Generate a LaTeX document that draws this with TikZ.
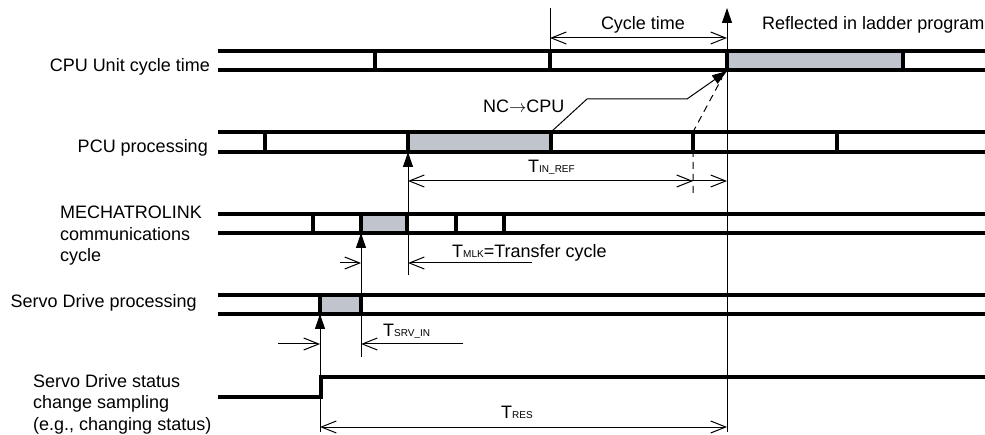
\documentclass[tikz,border=0pt]{standalone}
\usepackage{fontspec}
\setmainfont{Liberation Sans}
\usetikzlibrary{arrows.meta}
\definecolor{busygray}{RGB}{192,196,204}
\newcommand{\Tsub}[1]{T{\fontsize{10}{12}\selectfont #1}}

\begin{document}
\begin{tikzpicture}[x=1pt, y=-1pt,
        every node/.style={font=\fontsize{18}{21.5}\selectfont, inner sep=0pt},
        sig/.style={line width=3.3pt},
        thinln/.style={line width=1pt},
        barb/.style={thinln, -{Straight Barb[length=15pt,width=12pt]}},
        dim/.style={thinln, {Straight Barb[length=15pt,width=12pt]}-{Straight Barb[length=15pt,width=12pt]}},
        trig/.style={thinln, -{Triangle[length=15pt,width=10pt]}}]
        \useasboundingbox (0,0) rectangle (985,435);
        \fill[busygray] (727,51) rectangle (903,70);
        \fill[busygray] (408,132) rectangle (551,152);
        \fill[busygray] (361,214) rectangle (407,233);
        \fill[busygray] (320,295) rectangle (361,314);
        \foreach \yt/\yb in {51/70, 132/152, 214/233, 295/314}
            \draw[sig] (218,\yt) -- (985,\yt) (218,\yb) -- (985,\yb);
        \foreach \x in {375, 550, 727, 903}
            \draw[sig] (\x,51) -- (\x,70);
        \foreach \x in {265, 408, 551, 693, 837}
            \draw[sig] (\x,132) -- (\x,152);
        \foreach \x in {313, 361, 407, 456, 504}
            \draw[sig] (\x,214) -- (\x,233);
        \foreach \x in {320, 361}
            \draw[sig] (\x,295) -- (\x,314);
        \draw[sig] (218,397) -- (321,397) -- (321,377) -- (985,377);
        \node[anchor=base east] (cpu) at (210,72) {CPU Unit cycle time};
        \node[anchor=base east] (pcu) at (208,153) {PCU processing};
        \node[anchor=north west, align=left] (mlk) at (60,206) {MECHATROLINK\\communications\\cycle};
        \node[anchor=base east] (srv) at (197,308) {Servo Drive processing};
        \node[anchor=north west, align=left] (sts) at (33,374) {Servo Drive status\\change sampling\\(e.g., changing status)};
        \coordinate (ref) at (727,71);
        \draw[thinln] (550,8) -- (550,51);
        \draw[trig] (727,432) -- (727,8);
        \draw[trig] (408,275) -- (408,152);
        \draw[trig] (361,357) -- (361,233);
        \draw[trig] (320,432) -- (320,314);
        \draw[dim] (550,38) -- (727,38);
        \node[anchor=base] (cyc) at (643,30) {Cycle time};
        \node[anchor=base west] (lad) at (762,30) {Reflected in ladder program};
        \draw[trig] (551,132) -- (587,99) -- (687,99) -- (ref);
        \node[anchor=base west] (nc) at (483,113) {NC$\rightarrow$CPU};
        \draw[thinln, dash pattern=on 7pt off 5pt] (693,193) -- (693,132) -- (722,78);
        \draw[dim] (408,181) -- (727,181);
        \draw[barb] (600,181) -- (693,181);
        \node[anchor=base west] (tin) at (528,173) {\Tsub{IN\_REF}};
        \draw[barb] (340,263) -- (361,263);
        \draw[barb] (532,263) -- (408,263);
        \node[anchor=base west] (tmlk) at (452,258) {\Tsub{MLK}=Transfer cycle};
        \draw[barb] (278,344) -- (320,344);
        \draw[barb] (463,344) -- (361,344);
        \node[anchor=base west] (tsrv) at (383,337) {\Tsub{SRV\_IN}};
        \draw[dim] (320,427) -- (727,427);
        \node[anchor=base west] (tres) at (501,418) {\Tsub{RES}};
    \end{tikzpicture}
\end{document}
